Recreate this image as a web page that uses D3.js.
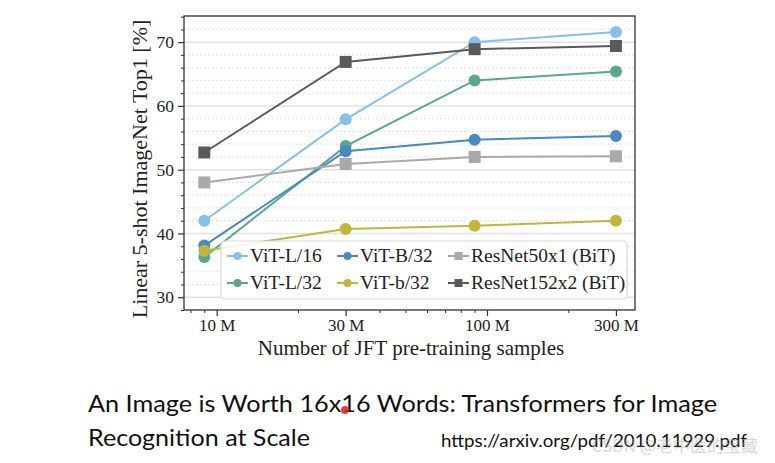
<!DOCTYPE html>
<html><head><meta charset="utf-8">
<script src="https://cdn.jsdelivr.net/npm/d3@7"></script>
<style>html,body{margin:0;padding:0;background:#fff;}svg{display:block;}</style>
</head><body>
<svg id="c" width="775" height="463"></svg>
<script>
// ---- data ----
const samples = [9, 30, 90, 300]; // millions
const seriesNames = ["ViT-L/16", "ViT-L/32", "ViT-B/32", "ViT-b/32", "ResNet50x1 (BiT)", "ResNet152x2 (BiT)"];
const vitL16 = [42.0, 57.9, 70.0, 71.6];
const vitL32 = [36.3, 53.7, 64.0, 65.4];
const vitB32 = [38.1, 52.9, 54.7, 55.3];
const vitb32 = [37.3, 40.7, 41.2, 42.0];
const res50  = [48.0, 50.9, 52.0, 52.1];
const res152 = [52.7, 66.9, 68.9, 69.4];
const xTickValues = [10, 30, 100, 300];
const xTickLabels = ["10 M", "30 M", "100 M", "300 M"];
const yTickValues = [30, 40, 50, 60, 70];

const colors = ["#86c0ea", "#5aa78c", "#4a88c2", "#c3b53c", "#a9a9a9", "#5a5a5a"];
const shapes = ["circle", "circle", "circle", "circle", "square", "square"];
const allValues = [vitL16, vitL32, vitB32, vitb32, res50, res152];

const svg = d3.select("#c");
const L = 184, R = 635, T = 16, B = 310;
const x = d3.scaleLog().domain([7.57, 352.9]).range([L, R]);
const y = d3.scaleLinear().domain([28, 74.1]).range([B, T]);
const serif = "'Liberation Serif', 'DejaVu Serif', serif";

// grid
const minorY = d3.range(28, 75, 2).filter(v => v % 10 !== 0);
svg.append("g").selectAll("line").data(minorY).join("line")
  .attr("x1", L).attr("x2", R).attr("y1", d => y(d)).attr("y2", d => y(d))
  .attr("stroke", "#dedede").attr("stroke-width", 1.2).attr("stroke-dasharray", "1.5,2.5");
svg.append("g").selectAll("line").data(yTickValues).join("line")
  .attr("x1", L).attr("x2", R).attr("y1", d => y(d)).attr("y2", d => y(d))
  .attr("stroke", "#e2e2e2").attr("stroke-width", 1.5);

// series
const lineGen = d3.line().x((d, i) => x(samples[i])).y(d => y(d));
allValues.forEach((vals, si) => {
  const g = svg.append("g");
  g.append("path").datum(vals).attr("d", lineGen).attr("fill", "none")
    .attr("stroke", colors[si]).attr("stroke-width", 2);
  if (shapes[si] === "circle") {
    g.selectAll("circle").data(vals).join("circle")
      .attr("cx", (d, i) => x(samples[i])).attr("cy", d => y(d)).attr("r", 6)
      .attr("fill", colors[si]);
  } else {
    g.selectAll("rect").data(vals).join("rect")
      .attr("x", (d, i) => x(samples[i]) - 6).attr("y", d => y(d) - 6)
      .attr("width", 12).attr("height", 12).attr("fill", colors[si]);
  }
});

// frame
svg.append("rect").attr("x", L).attr("y", T).attr("width", R - L).attr("height", B - T)
  .attr("fill", "none").attr("stroke", "#333").attr("stroke-width", 1.3);

// y axis
const yAxis = d3.axisLeft(y).tickValues(yTickValues).tickSize(6).tickPadding(4).tickFormat(d3.format("d"));
const gy = svg.append("g").attr("transform", `translate(${L},0)`).call(yAxis);
gy.select(".domain").remove();
gy.selectAll("line").attr("stroke", "#333").attr("stroke-width", 1.2);
gy.selectAll("text").attr("font-family", serif).attr("font-size", 17.5).attr("fill", "#222");
const gym = svg.append("g").attr("transform", `translate(${L},0)`)
  .call(d3.axisLeft(y).tickValues(minorY).tickSize(3).tickFormat(""));
gym.select(".domain").remove();
gym.selectAll("line").attr("stroke", "#333").attr("stroke-width", 1);

// x axis
const xAxis = d3.axisBottom(x).tickValues(xTickValues).tickSize(6).tickPadding(3)
  .tickFormat((d, i) => xTickLabels[i]);
const gx = svg.append("g").attr("transform", `translate(0,${B})`).call(xAxis);
gx.select(".domain").remove();
gx.selectAll("line").attr("stroke", "#333").attr("stroke-width", 1.2);
gx.selectAll("text").attr("font-family", serif).attr("font-size", 17).attr("fill", "#222");
const minorX = [8, 9, 20, 40, 50, 60, 70, 80, 90, 200];
const gxm = svg.append("g").attr("transform", `translate(0,${B})`)
  .call(d3.axisBottom(x).tickValues(minorX).tickSize(3).tickFormat(""));
gxm.select(".domain").remove();
gxm.selectAll("line").attr("stroke", "#333").attr("stroke-width", 1);

// axis titles
svg.append("text").attr("x", 411).attr("y", 355).attr("text-anchor", "middle")
  .attr("font-family", serif).attr("font-size", 21).attr("fill", "#222")
  .text("Number of JFT pre-training samples");
svg.append("text").attr("transform", `translate(147,169) rotate(-90)`)
  .attr("text-anchor", "middle").attr("font-family", serif).attr("font-size", 22).attr("fill", "#222")
  .text("Linear 5-shot ImageNet Top1 [%]");

// legend
const lg = svg.append("g");
lg.append("rect").attr("x", 221).attr("y", 241).attr("width", 406).attr("height", 58).attr("rx", 4)
  .attr("fill", "rgba(255,255,255,0.85)").attr("stroke", "#d8d8d8").attr("stroke-width", 1.2);
const colX = [227, 337, 448];
const rowY = [256, 283];
seriesNames.forEach((name, i) => {
  const cx = colX[Math.floor(i / 2)], cy = rowY[i % 2];
  lg.append("line").attr("x1", cx).attr("x2", cx + 21).attr("y1", cy).attr("y2", cy)
    .attr("stroke", colors[i]).attr("stroke-width", 2);
  if (shapes[i] === "circle") lg.append("circle").attr("cx", cx + 10.5).attr("cy", cy).attr("r", 4).attr("fill", colors[i]);
  else lg.append("rect").attr("x", cx + 6.5).attr("y", cy - 4).attr("width", 8).attr("height", 8).attr("fill", colors[i]);
  lg.append("text").attr("x", cx + 23).attr("y", cy + 6).attr("font-family", serif).attr("font-size", 19.5)
    .attr("fill", "#222").text(name);
});

// caption
const sans = "'Lato', 'Open Sans', sans-serif";
svg.append("text").attr("x", 88).attr("y", 412).attr("font-family", sans).attr("font-size", 24)
  .attr("fill", "#111").attr("textLength", 629).attr("lengthAdjust", "spacingAndGlyphs")
  .text("An Image is Worth 16x16 Words: Transformers for Image");
svg.append("text").attr("x", 88).attr("y", 446).attr("font-family", sans).attr("font-size", 24)
  .attr("fill", "#111").attr("textLength", 222).attr("lengthAdjust", "spacingAndGlyphs")
  .text("Recognition at Scale");
svg.append("text").attr("x", 441).attr("y", 447).attr("font-family", sans).attr("font-size", 18)
  .attr("fill", "#111").attr("textLength", 306).attr("lengthAdjust", "spacingAndGlyphs")
  .text("https://arxiv.org/pdf/2010.11929.pdf");
svg.append("text").attr("x", 758).attr("y", 452).attr("text-anchor", "end").attr("font-family", "'Noto Sans CJK SC', sans-serif")
  .attr("font-size", 17).attr("fill", "#aaa").attr("opacity", 0.45).text("CSDN @老中医的宝藏");
svg.append("circle").attr("cx", 345).attr("cy", 410).attr("r", 4).attr("fill", "#e02020").attr("opacity", 0.85);
</script>
</body></html>
